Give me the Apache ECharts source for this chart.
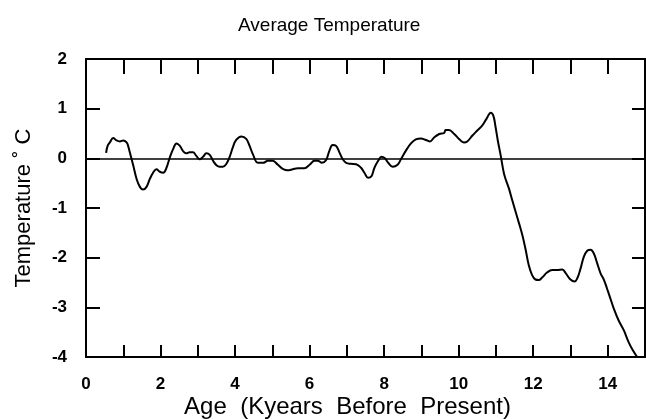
<!DOCTYPE html>
<html>
<head>
<meta charset="utf-8">
<script src="https://cdn.jsdelivr.net/npm/echarts@6/dist/echarts.min.js"></script>
<style>html,body{margin:0;padding:0;background:#fff}#c{width:646px;height:419px}</style>
</head>
<body>
<div id="c"></div>
<script>
var ages = [0.54,0.58,0.64,0.73,0.82,0.91,1.0,1.09,1.13,1.2,1.27,1.36,1.45,1.53,1.62,1.71,1.8,1.89,1.98,2.07,2.16,2.25,2.34,2.43,2.52,2.6,2.69,2.78,2.87,2.96,3.05,3.14,3.23,3.32,3.41,3.5,3.59,3.67,3.76,3.85,3.94,4.03,4.17,4.3,4.39,4.48,4.61,4.75,4.88,5.01,5.15,5.28,5.41,5.55,5.68,5.86,6.0,6.13,6.22,6.33,6.44,6.53,6.62,6.71,6.8,6.89,6.98,7.11,7.25,7.38,7.47,7.57,7.66,7.74,7.84,7.93,8.02,8.11,8.23,8.36,8.45,8.58,8.72,8.85,8.99,9.12,9.23,9.34,9.48,9.61,9.65,9.74,9.88,10.01,10.14,10.23,10.37,10.5,10.63,10.75,10.86,10.93,10.99,11.05,11.13,11.22,11.35,11.44,11.53,11.62,11.71,11.8,11.88,11.97,12.06,12.15,12.24,12.37,12.51,12.64,12.78,12.88,13.0,13.11,13.18,13.27,13.36,13.45,13.54,13.63,13.72,13.81,13.9,13.98,14.07,14.16,14.29,14.43,14.56,14.67,14.79];
var temps = [0.11,0.25,0.32,0.41,0.36,0.34,0.36,0.32,0.25,0.05,-0.15,-0.42,-0.58,-0.63,-0.58,-0.42,-0.29,-0.22,-0.27,-0.29,-0.19,0.02,0.19,0.30,0.25,0.15,0.10,0.12,0.12,0.05,-0.02,0.03,0.10,0.07,-0.05,-0.14,-0.17,-0.17,-0.12,0.02,0.22,0.37,0.44,0.39,0.25,0.08,-0.09,-0.09,-0.05,-0.05,-0.13,-0.21,-0.24,-0.22,-0.20,-0.20,-0.13,-0.05,-0.05,-0.09,-0.04,0.15,0.27,0.25,0.12,-0.02,-0.09,-0.11,-0.12,-0.19,-0.29,-0.39,-0.36,-0.19,-0.05,0.03,0.0,-0.09,-0.17,-0.13,-0.02,0.15,0.30,0.38,0.40,0.37,0.34,0.42,0.49,0.51,0.57,0.57,0.49,0.39,0.32,0.34,0.46,0.56,0.66,0.80,0.92,0.86,0.63,0.36,0.05,-0.32,-0.61,-0.85,-1.08,-1.31,-1.55,-1.85,-2.15,-2.35,-2.44,-2.45,-2.40,-2.30,-2.25,-2.25,-2.24,-2.32,-2.44,-2.48,-2.42,-2.22,-1.98,-1.86,-1.84,-1.92,-2.12,-2.32,-2.45,-2.62,-2.82,-3.02,-3.26,-3.46,-3.70,-3.86,-4.0];
var xTicks = [0,2,4,6,8,10,12,14];
var yTicks = [-4,-3,-2,-1,0,1,2];

var font = "'Liberation Sans', Arial, Helvetica, sans-serif";
var pts = ages.map(function (a, i) { return [a, temps[i]]; });
var chart = echarts.init(document.getElementById('c'), null, {renderer: 'canvas'});
var frameLine = {show: true, onZero: false, lineStyle: {color: '#000', width: 2}};
chart.setOption({
  animation: false,
  backgroundColor: '#fff',
  title: {
    text: 'Average Temperature',
    left: 233, top: 11,
    textStyle: {fontFamily: font, fontSize: 19, fontWeight: 'normal', color: '#000'}
  },
  grid: {left: 86, right: 1, top: 59, bottom: 62, containLabel: false, outerBoundsMode: 'none'},
  xAxis: [{
    type: 'value', min: 0, max: 15, interval: 1, position: 'bottom',
    axisLine: frameLine,
    axisTick: {show: true, inside: true, length: 12, lineStyle: {color: '#000', width: 2}},
    splitLine: {show: false},
    axisLabel: {
      color: '#000', fontFamily: font, fontSize: 17, fontWeight: 'bold', margin: 19,
      formatter: function (v) { return xTicks.indexOf(v) >= 0 ? String(v) : ''; }
    },
    name: 'Age  (Kyears  Before  Present)', nameLocation: 'middle', nameGap: 38,
    nameMoveOverlap: false,
    nameTextStyle: {color: '#000', fontFamily: font, fontSize: 24, padding: [0, 36, 0, 0]}
  }, {
    type: 'value', min: 0, max: 15, interval: 1, position: 'top',
    axisLine: frameLine,
    axisTick: {show: true, inside: true, length: 15, lineStyle: {color: '#000', width: 2}},
    axisLabel: {show: false}, splitLine: {show: false}
  }],
  yAxis: [{
    type: 'value', min: -4, max: 2, interval: 1, position: 'left',
    axisLine: frameLine,
    axisTick: {show: true, inside: true, length: 14, lineStyle: {color: '#000', width: 2}},
    splitLine: {show: false},
    axisLabel: {
      color: '#000', fontFamily: font, fontSize: 17, fontWeight: 'bold', margin: 19,
      formatter: function (v) { return yTicks.indexOf(v) >= 0 ? String(v) : ''; }
    },
    name: 'Temperature ˚ C', nameLocation: 'middle', nameGap: 51, nameRotate: 90,
    nameMoveOverlap: false,
    nameTextStyle: {color: '#000', fontFamily: font, fontSize: 22}
  }, {
    type: 'value', min: -4, max: 2, interval: 1, position: 'right',
    axisLine: frameLine,
    axisTick: {show: true, inside: true, length: 13, lineStyle: {color: '#000', width: 2}},
    axisLabel: {show: false}, splitLine: {show: false}
  }],
  series: [{
    type: 'line', xAxisIndex: 0, yAxisIndex: 0,
    data: pts, smooth: 0.4, showSymbol: false, symbol: 'none', clip: true,
    lineStyle: {color: '#000', width: 2},
    markLine: {
      silent: true, symbol: ['none', 'none'], label: {show: false},
      lineStyle: {color: '#000', width: 1.5, type: 'solid'},
      data: [{yAxis: 0}]
    }
  }]
});
</script>
</body>
</html>
